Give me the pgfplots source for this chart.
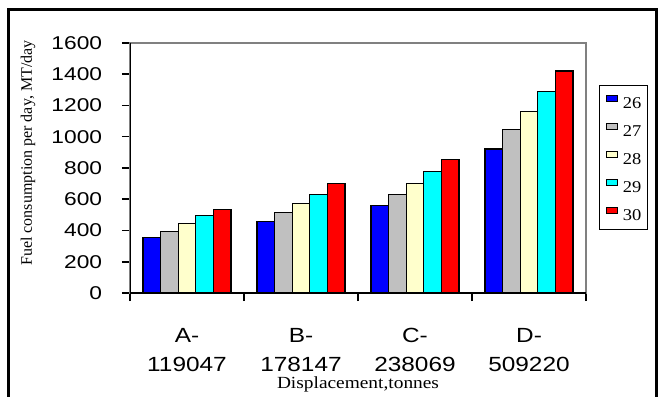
\documentclass[border=0pt]{standalone}
\usepackage{pgfplots}
\usepackage{pgfplotstable}
\usepackage{graphicx}
\pgfplotsset{compat=1.18}
\usepackage{fontspec}
\setmainfont{Liberation Serif}
\newfontfamily\arial{Liberation Sans}

\definecolor{c26}{RGB}{0,0,255}
\definecolor{c27}{RGB}{192,192,192}
\definecolor{c28}{RGB}{255,255,204}
\definecolor{c29}{RGB}{0,255,255}
\definecolor{c30}{RGB}{255,0,0}
\definecolor{framegray}{RGB}{128,128,128}

% fuel consumption (MT/day) per displacement class and speed
\pgfplotstableread{
pos  t26  t27  t28  t29  t30
0.5  354  393  444  495  536
1.5  459  514  574  630  702
2.5  559  630  702  777  854
3.5  922  1046 1161 1289 1421
}\fuel

\begin{document}
\begin{tikzpicture}[x=1pt,y=1pt]
\useasboundingbox (0,0) rectangle (660,396);
\draw[line width=2.5pt] (8.3,-10) -- (8.3,386.7) -- (656.7,386.7) -- (656.7,-10);
\begin{axis}[
  at={(130pt,103pt)}, anchor=south west,
  scale only axis, width=456pt, height=250pt,
  xmin=0, xmax=4, ymin=0, ymax=1600,
  ybar=0pt, bar width=17.6pt,
  xtick={0.5,1.5,2.5,3.5},
  xticklabels={{A-\\119047},{B-\\178147},{C-\\238069},{D-\\509220}},
  minor xtick={0,1,2,3,4},
  ytick={0,200,...,1600},
  yticklabels={0,200,400,600,800,1000,1200,1400,1600},
  xtick pos=bottom, ytick pos=left, tick align=outside,
  major tick length=8pt, minor tick length=8pt,
  major x tick style={draw=none},
  tick style={black, line width=1.5pt},
  axis line style={draw=framegray, line width=1.3pt},
  yticklabel style={font=\arial\fontsize{18.5}{20}\selectfont, xscale=1.23, inner sep=0pt, xshift=-16pt},
  xticklabel style={align=center, font=\arial\fontsize{20.5}{29}\selectfont, xscale=1.19, inner sep=0pt, text depth=0pt, yshift=-27pt},
  xlabel={\scalebox{1.14}[1]{Displacement,tonnes}},
  xlabel style={font=\fontsize{17}{17}\selectfont, at={(axis description cs:0.5,-0.382)}, anchor=base, inner sep=0pt},
  ylabel={Fuel consumption per day, MT/day},
  ylabel style={font=\fontsize{16}{16}\selectfont, at={(axis description cs:-0.2237,0.56)}, anchor=center, inner sep=0pt},
  every axis plot post/.append style={
    legend image code/.code={\draw[##1, draw=black, line width=1pt] (0pt,1.5pt) rectangle (10.7pt,7.5pt);}},
  legend style={at={(axis description cs:1.0285,0.832)}, anchor=north west,
    draw=black, line width=1.3pt, font=\fontsize{16.5}{16.5}\selectfont,
    row sep=14.5pt, column sep=5pt, inner xsep=6.5pt, inner ysep=9pt,
    nodes={inner sep=0pt, text height=11pt, text depth=0pt}},
  legend cell align=left,
]
\addplot[fill=c26, draw=black, line width=1.3pt] table[x=pos,y=t26]{\fuel};
\addplot[fill=c27, draw=black, line width=1.3pt] table[x=pos,y=t27]{\fuel};
\addplot[fill=c28, draw=black, line width=1.3pt] table[x=pos,y=t28]{\fuel};
\addplot[fill=c29, draw=black, line width=1.3pt] table[x=pos,y=t29]{\fuel};
\addplot[fill=c30, draw=black, line width=1.3pt] table[x=pos,y=t30]{\fuel};
\addlegendentry{\scalebox{1.12}[1]{26}\hspace{4pt}}
\addlegendentry{\scalebox{1.12}[1]{27}\hspace{4pt}}
\addlegendentry{\scalebox{1.12}[1]{28}\hspace{4pt}}
\addlegendentry{\scalebox{1.12}[1]{29}\hspace{4pt}}
\addlegendentry{\scalebox{1.12}[1]{30}\hspace{4pt}}
\draw[black, line width=1.7pt] (rel axis cs:0,1) -- (rel axis cs:0,0) -- (rel axis cs:1,0);
\end{axis}
\end{tikzpicture}
\end{document}
